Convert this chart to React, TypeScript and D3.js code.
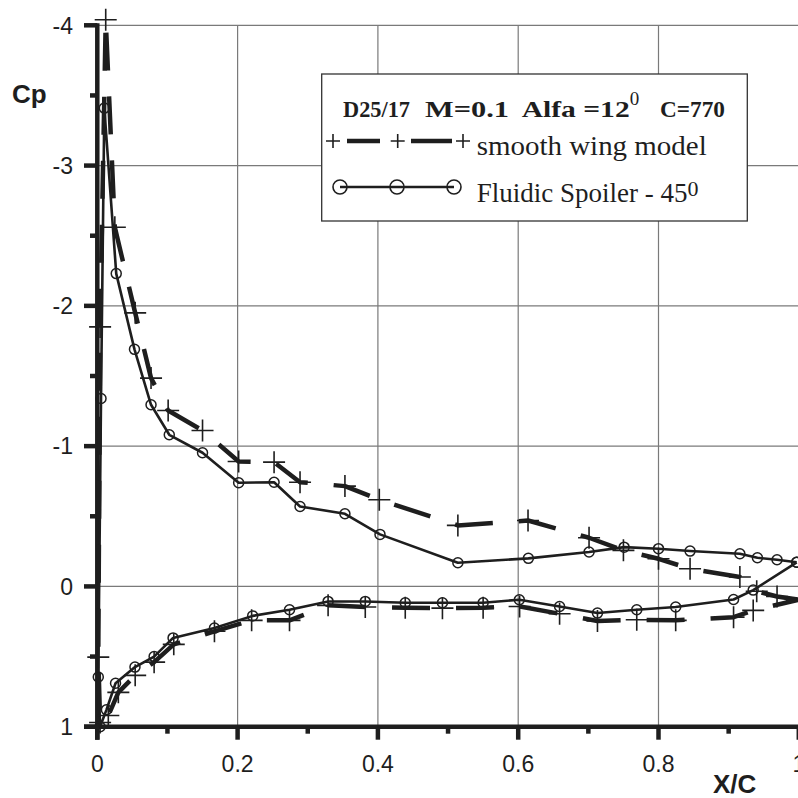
import React from "react";
import * as d3 from "d3";

// ---- Data ----
// Smooth wing model (crosses, dashed) : upper TE -> LE -> lower TE
const smoothX = [
  1.0, 0.969, 0.94, 0.916, 0.845, 0.8, 0.75, 0.701, 0.614, 0.514, 0.402, 0.353,
  0.289, 0.252, 0.2015, 0.15, 0.101, 0.0766, 0.054, 0.025, 0.012, 0.004,
  0.0014, 0.004, 0.0157, 0.03, 0.054, 0.081, 0.109, 0.167, 0.22, 0.274, 0.329,
  0.382, 0.439, 0.492, 0.55, 0.602, 0.659, 0.713, 0.769, 0.8245, 0.907, 0.935,
  1.0,
];
const smoothCp = [
  0.095, 0.072, 0.034, -0.067, -0.126, -0.197, -0.257, -0.347, -0.47, -0.435,
  -0.618, -0.715, -0.743, -0.886, -0.891, -1.112, -1.254, -1.485, -1.95, -2.56,
  -4.04, -1.85, 0.504, 0.97, 0.92, 0.755, 0.634, 0.54, 0.413, 0.32, 0.242,
  0.242, 0.135, 0.147, 0.152, 0.155, 0.152, 0.143, 0.195, 0.247, 0.238, 0.242,
  0.219, 0.171, 0.095,
];
// Fluidic Spoiler - 45 deg (circles, solid)
const spoilerX = [
  0.997, 0.969, 0.941, 0.916, 0.845, 0.8, 0.751, 0.701, 0.6145, 0.514, 0.403,
  0.353, 0.289, 0.252, 0.2015, 0.15, 0.1026, 0.0766, 0.053, 0.027, 0.01,
  0.0053, 0.0014, 0.004, 0.013, 0.026, 0.0537, 0.081, 0.108, 0.167, 0.2215,
  0.274, 0.329, 0.382, 0.439, 0.492, 0.55, 0.6016, 0.659, 0.713, 0.769, 0.8245,
  0.907, 0.935, 0.997,
];
const spoilerCp = [
  -0.172, -0.19, -0.204, -0.233, -0.252, -0.269, -0.28, -0.245, -0.2, -0.169,
  -0.371, -0.518, -0.57, -0.743, -0.739, -0.953, -1.081, -1.295, -1.69, -2.23,
  -3.41, -1.34, 0.646, 1.0, 0.88, 0.69, 0.575, 0.5, 0.367, 0.297, 0.21, 0.166,
  0.107, 0.107, 0.116, 0.116, 0.116, 0.095, 0.143, 0.19, 0.166, 0.147, 0.093,
  0.026, -0.172,
];

const xTicks = [0, 0.2, 0.4, 0.6, 0.8, 1];
const xMinor = [0.1, 0.3, 0.5, 0.7, 0.9];
const yTicks = [-4, -3, -2, -1, 0, 1];
const yMinor = [-3.5, -2.5, -1.5, -0.5, 0.5];
const xTickLabels = ["0", "0.2", "0.4", "0.6", "0.8", "1"];
const yTickLabels = ["-4", "-3", "-2", "-1", "0", "1"];

const INK = "#1e1e1e";
const GRID = "#7a7a7a";
const SANS = "'Liberation Sans', Arial, sans-serif";
const SERIF = "'Liberation Serif', 'Times New Roman', serif";

export default function App() {
  const W = 798;
  const H = 798;
  const x = d3.scaleLinear().domain([0, 1]).range([97.3, 798.8]);
  const y = d3.scaleLinear().domain([-4, 1]).range([25.3, 726.7]);

  const smooth = smoothX.map((v, i) => [v, smoothCp[i]] as [number, number]);
  const spoiler = spoilerX.map((v, i) => [v, spoilerCp[i]] as [number, number]);

  const line = d3
    .line<[number, number]>()
    .x((d) => x(d[0]))
    .y((d) => y(d[1]));

  const crossPath = (cx: number, cy: number, a: number) =>
    `M${cx - a},${cy}h${2 * a}M${cx},${cy - a}v${2 * a}`;

  const x0 = x(0);
  const yb = y(1);

  return (
    <svg
      width={W}
      height={H}
      style={{ position: "absolute", left: 0, top: 0, background: "#fff" }}
    >
      <rect x={0} y={0} width={W} height={H} fill="#fff" />
      {/* grid */}
      {xTicks.slice(1).map((t) => (
        <line key={"gx" + t} x1={x(t)} x2={x(t)} y1={y(-4)} y2={yb} stroke={GRID} strokeWidth={1.2} />
      ))}
      {yTicks.slice(0, -1).map((t) => (
        <line key={"gy" + t} x1={x0} x2={W} y1={y(t)} y2={y(t)} stroke={GRID} strokeWidth={1.2} />
      ))}

      {/* axes */}
      <line x1={x0} x2={x0} y1={y(-4) - 2} y2={yb + 13} stroke={INK} strokeWidth={4.5} />
      <line x1={84} x2={W} y1={yb} y2={yb} stroke={INK} strokeWidth={4.5} />
      {yTicks.map((t) => (
        <line key={"ty" + t} x1={84} x2={x0} y1={y(t)} y2={y(t)} stroke={INK} strokeWidth={4.5} />
      ))}
      {yMinor.map((t) => (
        <line key={"tym" + t} x1={90} x2={x0} y1={y(t)} y2={y(t)} stroke={INK} strokeWidth={4.5} />
      ))}
      {xTicks.map((t) => (
        <line key={"tx" + t} x1={x(t)} x2={x(t)} y1={yb} y2={yb + 13} stroke={INK} strokeWidth={4.5} />
      ))}
      {xMinor.map((t) => (
        <line key={"txm" + t} x1={x(t)} x2={x(t)} y1={yb} y2={yb + 7} stroke={INK} strokeWidth={4.5} />
      ))}

      {/* tick labels */}
      {yTicks.map((t, i) => (
        <text key={"ly" + t} x={73} y={y(t) + 8.3} textAnchor="end" fontFamily={SANS} fontSize={23} fill={INK}>
          {yTickLabels[i]}
        </text>
      ))}
      {xTicks.map((t, i) => (
        <text key={"lx" + t} x={x(t)} y={772} textAnchor="middle" fontFamily={SANS} fontSize={23} fill={INK}>
          {xTickLabels[i]}
        </text>
      ))}
      <text x={12} y={103} fontFamily={SANS} fontSize={26} fontWeight="bold" fill={INK}>
        Cp
      </text>
      <text x={713} y={793} fontFamily={SANS} fontSize={26} fontWeight="bold" fill={INK}>
        X/C
      </text>

      {/* series: fluidic spoiler */}
      <path d={line(spoiler) || ""} fill="none" stroke={INK} strokeWidth={2.6} strokeLinejoin="round" />
      {spoiler.map((d, i) => (
        <circle key={"c" + i} cx={x(d[0])} cy={y(d[1])} r={5} fill="none" stroke={INK} strokeWidth={1.5} />
      ))}

      {/* series: smooth wing */}
      <path
        d={line(smooth) || ""}
        fill="none"
        stroke={INK}
        strokeWidth={4.5}
        strokeDasharray="38 26"
        strokeLinejoin="round"
      />
      {smooth.map((d, i) => (
        <path key={"s" + i} d={crossPath(x(d[0]), y(d[1]), 11)} stroke={INK} strokeWidth={1.6} fill="none" />
      ))}

      {/* legend */}
      <rect x={321.7} y={74} width={425.6} height={147} fill="#fff" stroke="#333" strokeWidth={1.3} />
      <g fontFamily={SERIF} fill={INK}>
        <text x={343} y={117} fontSize={23} fontWeight="bold" textLength={67} lengthAdjust="spacingAndGlyphs">D25/17</text>
        <text x={425} y={117} fontSize={23} fontWeight="bold" textLength={84} lengthAdjust="spacingAndGlyphs">M=0.1</text>
        <text x={521.7} y={117} fontSize={23} fontWeight="bold">
          <tspan textLength={108} lengthAdjust="spacingAndGlyphs">Alfa =12</tspan>
          <tspan dy={-12} fontSize={19} fontWeight="normal">0</tspan>
        </text>
        <text x={660} y={117} fontSize={23} fontWeight="bold" textLength={65} lengthAdjust="spacingAndGlyphs">C=770</text>
        <text x={476.7} y={155} fontSize={28} textLength={230} lengthAdjust="spacingAndGlyphs">smooth wing model</text>
        <text x={476.7} y={202} fontSize={27}>
          Fluidic Spoiler - 45<tspan dy={-6} fontSize={22}>0</tspan>
        </text>
      </g>
      <line x1={347} x2={380} y1={141} y2={141} stroke={INK} strokeWidth={4.5} />
      <line x1={411} x2={452} y1={141} y2={141} stroke={INK} strokeWidth={4.5} />
      {[333, 397.7, 463].map((cx) => (
        <path key={"lc" + cx} d={crossPath(cx, 141, 7)} stroke={INK} strokeWidth={1.6} fill="none" />
      ))}
      <line x1={340} x2={454} y1={187} y2={187} stroke={INK} strokeWidth={2.6} />
      {[340, 397, 454].map((cx) => (
        <circle key={"lo" + cx} cx={cx} cy={187} r={7} fill="none" stroke={INK} strokeWidth={1.6} />
      ))}
    </svg>
  );
}
